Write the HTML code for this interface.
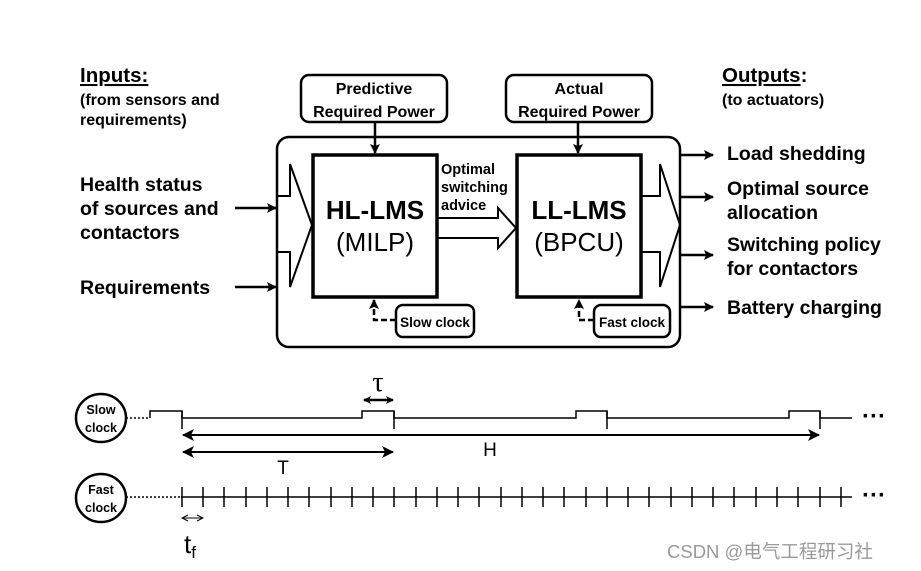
<!DOCTYPE html>
<html><head><meta charset="utf-8"><style>
html,body{margin:0;padding:0;background:#fff;}
svg{display:block;font-family:"Liberation Sans",Arial,sans-serif;}
.b{font-weight:bold;}
</style></head><body>
<svg width="921" height="571" viewBox="0 0 921 571" xmlns="http://www.w3.org/2000/svg">
<defs>
<marker id="ah" markerWidth="8" markerHeight="8" refX="7" refY="4" orient="auto-start-reverse" markerUnits="userSpaceOnUse"><path d="M0,0 L8,4 L0,8 L2,4 Z" fill="#000"/></marker>
<marker id="ah2" markerWidth="12" markerHeight="12" refX="11" refY="6" orient="auto-start-reverse" markerUnits="userSpaceOnUse"><path d="M0,0 L12,6 L0,12 L3,6 Z" fill="#000"/></marker>
<marker id="ah3" markerWidth="10" markerHeight="10" refX="9" refY="5" orient="auto" markerUnits="userSpaceOnUse"><path d="M0,0 L10,5 L0,10 L2,5 Z" fill="#000"/></marker>
<marker id="ao" markerWidth="8" markerHeight="8" refX="7" refY="4" orient="auto-start-reverse" markerUnits="userSpaceOnUse"><path d="M1,1 L7,4 L1,7" fill="none" stroke="#000" stroke-width="1"/></marker>
</defs>
<g stroke="#000" fill="none">
<rect x="301" y="75" width="146" height="47" rx="8" stroke-width="2.5"/>
<rect x="506" y="75" width="146" height="47" rx="8" stroke-width="2.5"/>
<line x1="375" y1="122" x2="375" y2="153" stroke-width="2.5" marker-end="url(#ah3)"/>
<line x1="578" y1="122" x2="578" y2="153" stroke-width="2.5" marker-end="url(#ah3)"/>
<rect x="277" y="137" width="403" height="210" rx="12" stroke-width="2.5"/>
<path d="M277,196 L290,196 L290,164 L312,225 L290,287 L290,252 L277,252" stroke-width="2"/>
<path d="M438,218 L498,218 L498,208 L516,228 L498,248 L498,238 L438,238" stroke-width="2" fill="#fff"/>
<path d="M641,196 L660,196 L660,164 L680,225 L660,287 L660,252 L641,252" stroke-width="2"/>
<rect x="313" y="155" width="124" height="142" stroke-width="3.5" fill="#fff"/>
<rect x="517" y="155" width="124" height="142" stroke-width="3.5" fill="#fff"/>
<rect x="396" y="305" width="78" height="32" rx="7" stroke-width="2.5"/>
<rect x="594" y="305" width="76" height="32" rx="7" stroke-width="2.5"/>
<path d="M396,320 L374,320 L374,300" stroke-width="2.5" stroke-dasharray="6,3" marker-end="url(#ah3)"/>
<path d="M594,320 L579,320 L579,300" stroke-width="2.5" stroke-dasharray="6,3" marker-end="url(#ah3)"/>
<line x1="235" y1="208" x2="276" y2="208" stroke-width="2.5" marker-end="url(#ah3)"/>
<line x1="235" y1="287" x2="276" y2="287" stroke-width="2.5" marker-end="url(#ah3)"/>
<line x1="680" y1="155" x2="713" y2="155" stroke-width="2.5" marker-end="url(#ah3)"/>
<line x1="680" y1="197" x2="713" y2="197" stroke-width="2.5" marker-end="url(#ah3)"/>
<line x1="680" y1="255" x2="713" y2="255" stroke-width="2.5" marker-end="url(#ah3)"/>
<line x1="680" y1="307" x2="713" y2="307" stroke-width="2.5" marker-end="url(#ah3)"/>
<ellipse cx="101" cy="418" rx="25" ry="24" stroke-width="2.5"/>
<line x1="126" y1="418" x2="150" y2="418" stroke-width="1.5" stroke-dasharray="2,2"/>
<path d="M150,418 L150,411 L182,411 L182,418 L362,418 L362,411 L394,411 L394,418 L576,418 L576,411 L607,411 L607,418 L789,418 L789,411 L820,411 L820,418 L852,418" stroke-width="1.5"/>
<line x1="182" y1="411" x2="182" y2="429" stroke-width="1.5"/>
<line x1="394" y1="411" x2="394" y2="429" stroke-width="1.5"/>
<line x1="607" y1="411" x2="607" y2="429" stroke-width="1.5"/>
<line x1="820" y1="411" x2="820" y2="429" stroke-width="1.5"/>
<line x1="183" y1="435" x2="819" y2="435" stroke-width="2" marker-start="url(#ah2)" marker-end="url(#ah2)"/>
<line x1="183" y1="452" x2="393" y2="452" stroke-width="2" marker-start="url(#ah2)" marker-end="url(#ah2)"/>
<line x1="364" y1="400" x2="393" y2="400" stroke-width="2.5" marker-start="url(#ah)" marker-end="url(#ah)"/>
<ellipse cx="101" cy="498" rx="25" ry="24" stroke-width="2.5"/>
<line x1="126" y1="497" x2="181" y2="497" stroke-width="1.5" stroke-dasharray="2,2"/>
<line x1="181" y1="497" x2="852" y2="497" stroke-width="1.5"/>
<path stroke-width="1.5" d="M182,487v20M203,487v20M224,487v20M246,487v20M267,487v20M288,487v20M309,487v20M331,487v20M352,487v20M373,487v20M394,487v20M416,487v20M437,487v20M458,487v20M479,487v20M501,487v20M522,487v20M543,487v20M564,487v20M586,487v20M607,487v20M628,487v20M649,487v20M671,487v20M692,487v20M713,487v20M734,487v20M756,487v20M777,487v20M798,487v20M820,487v20M841,487v20"/>
<line x1="182" y1="518" x2="203" y2="518" stroke-width="1" marker-start="url(#ao)" marker-end="url(#ao)"/>
</g>
<g fill="#000">
<text x="80" y="82" font-size="20.5" class="b" text-decoration="underline">Inputs:</text>
<text x="80" y="105" font-size="16" class="b">(from sensors and</text>
<text x="80" y="125" font-size="16" class="b">requirements)</text>
<text x="80" y="191" font-size="19.5" class="b">Health status</text>
<text x="80" y="215" font-size="19.5" class="b">of sources and</text>
<text x="80" y="239" font-size="19.5" class="b">contactors</text>
<text x="80" y="294" font-size="19.5" class="b">Requirements</text>
<text x="374" y="94" font-size="16" class="b" text-anchor="middle">Predictive</text>
<text x="374" y="117" font-size="16" class="b" text-anchor="middle">Required Power</text>
<text x="579" y="94" font-size="16" class="b" text-anchor="middle">Actual</text>
<text x="579" y="117" font-size="16" class="b" text-anchor="middle">Required Power</text>
<text x="375" y="219" font-size="26" class="b" text-anchor="middle">HL-LMS</text>
<text x="375" y="251" font-size="26" text-anchor="middle">(MILP)</text>
<text x="579" y="219" font-size="26" class="b" text-anchor="middle">LL-LMS</text>
<text x="579" y="251" font-size="26" text-anchor="middle">(BPCU)</text>
<text x="441" y="174" font-size="14.5" class="b">Optimal</text>
<text x="441" y="192" font-size="14.5" class="b">switching</text>
<text x="441" y="210" font-size="14.5" class="b">advice</text>
<text x="435" y="327" font-size="13.5" class="b" text-anchor="middle">Slow clock</text>
<text x="632" y="327" font-size="13.5" class="b" text-anchor="middle">Fast clock</text>
<text x="722" y="82" font-size="20.5" class="b"><tspan text-decoration="underline">Outputs</tspan>:</text>
<text x="722" y="105" font-size="16" class="b">(to actuators)</text>
<text x="727" y="160" font-size="19.5" class="b">Load shedding</text>
<text x="727" y="195" font-size="19.5" class="b">Optimal source</text>
<text x="727" y="219" font-size="19.5" class="b">allocation</text>
<text x="727" y="251" font-size="19.5" class="b">Switching policy</text>
<text x="727" y="275" font-size="19.5" class="b">for contactors</text>
<text x="727" y="314" font-size="19.5" class="b">Battery charging</text>
<text x="101" y="414" font-size="12.5" class="b" text-anchor="middle">Slow</text>
<text x="101" y="432" font-size="12.5" class="b" text-anchor="middle">clock</text>
<text x="101" y="494" font-size="12.5" class="b" text-anchor="middle">Fast</text>
<text x="101" y="512" font-size="12.5" class="b" text-anchor="middle">clock</text>
<text x="378" y="391" font-size="28" text-anchor="middle" font-family="Liberation Serif,serif">τ</text>
<text x="283" y="474" font-size="19" text-anchor="middle">T</text>
<text x="490" y="456" font-size="19" text-anchor="middle">H</text>
<text x="184" y="553" font-size="26">t<tspan font-size="17" dy="5">f</tspan></text>
<text x="862" y="424" font-size="24" class="b">···</text>
<text x="862" y="503" font-size="24" class="b">···</text>
<text x="667" y="558" font-size="18.5" fill="#999" font-family="Liberation Sans,'Noto Sans CJK SC',sans-serif">CSDN @电气工程研习社</text>
</g>
</svg>
</body></html>
